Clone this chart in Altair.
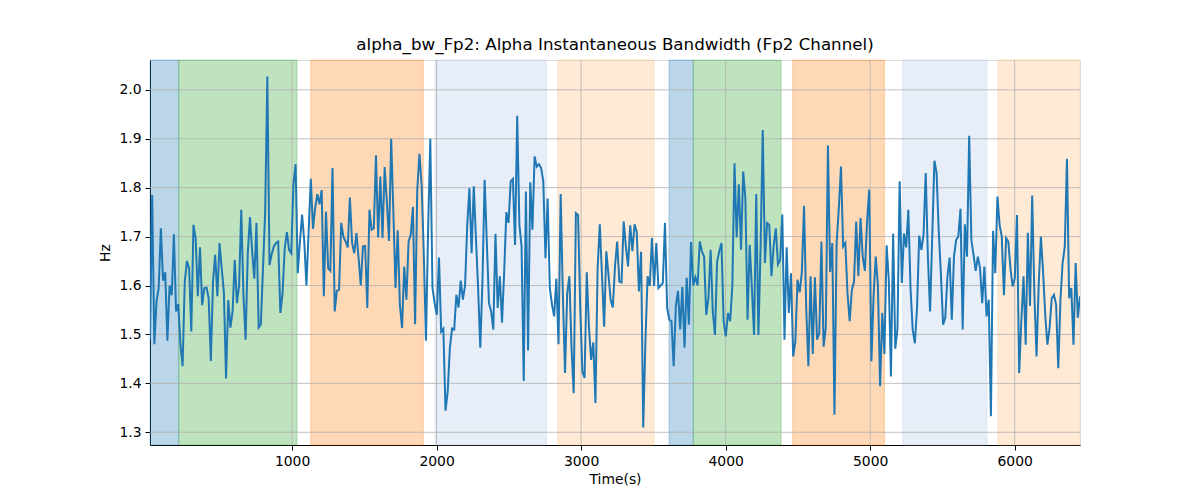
import altair as alt
import pandas as pd

# ---- data ----
T0 = 17.0
STEP = 15.035
bandwidth = [
    # 0 - ~830 s
    1.49, 1.785, 1.48, 1.567, 1.595, 1.717, 1.61, 1.627, 1.487, 1.6,
    1.58, 1.705, 1.547, 1.562, 1.48, 1.435, 1.608, 1.65, 1.635, 1.506,
    1.724, 1.697, 1.578, 1.678, 1.56, 1.595, 1.596, 1.574, 1.446, 1.608,
    1.663, 1.578, 1.687, 1.635, 1.586, 1.41, 1.57, 1.514, 1.547, 1.652,
    1.564, 1.6, 1.755, 1.581, 1.489, 1.666, 1.74, 1.67, 1.614, 1.728,
    1.514, 1.52, 1.635, 1.75, 2.027,
    # ~830 - ~1700 s
    1.642, 1.664, 1.68, 1.687, 1.69, 1.544, 1.584, 1.676, 1.709, 1.673,
    1.666, 1.806, 1.848, 1.625, 1.69, 1.745, 1.69, 1.6, 1.71, 1.818,
    1.716, 1.758, 1.787, 1.766, 1.795, 1.578, 1.751, 1.635, 1.63, 1.84,
    1.547, 1.589, 1.591, 1.728, 1.7, 1.69, 1.678, 1.78, 1.687, 1.666,
    1.707, 1.656, 1.6, 1.68, 1.681, 1.554, 1.755, 1.714, 1.717, 1.866,
    1.698, 1.823, 1.697, 1.842, 1.772, 1.691, 1.9,
    # ~1700 - ~2580 s
    1.75, 1.595, 1.713, 1.561, 1.513, 1.639, 1.571, 1.69, 1.703, 1.761,
    1.521, 1.796, 1.869, 1.806, 1.666, 1.487, 1.717, 1.9, 1.595, 1.564,
    1.54, 1.657, 1.506, 1.512, 1.344, 1.383, 1.472, 1.512, 1.51, 1.581,
    1.555, 1.61, 1.571, 1.6, 1.724, 1.799, 1.666, 1.803, 1.697, 1.595,
    1.473, 1.608, 1.816, 1.69, 1.564, 1.547, 1.51, 1.706, 1.554, 1.619,
    1.524, 1.628, 1.75, 1.728, 1.813, 1.818, 1.683, 1.947,
    # ~2580 - ~3450 s
    1.724, 1.68, 1.405, 1.792, 1.467, 1.811, 1.714, 1.864, 1.843, 1.848,
    1.84, 1.813, 1.656, 1.778, 1.595, 1.561, 1.537, 1.614, 1.48, 1.787,
    1.581, 1.421, 1.584, 1.619, 1.472, 1.38, 1.748, 1.744, 1.554, 1.424,
    1.411, 1.627, 1.516, 1.448, 1.484, 1.36, 1.635, 1.725, 1.622, 1.516,
    1.67, 1.622, 1.571, 1.555, 1.639, 1.69, 1.608, 1.606, 1.731, 1.68,
    1.639, 1.723, 1.67, 1.725, 1.71, 1.588, 1.669, 1.31,
    # ~3450 - ~4310 s
    1.486, 1.619, 1.599, 1.697, 1.599, 1.687, 1.595, 1.6, 1.605, 1.728,
    1.554, 1.53, 1.527, 1.435, 1.558, 1.589, 1.51, 1.597, 1.473, 1.616,
    1.52, 1.689, 1.6, 1.617, 1.6, 1.69, 1.67, 1.659, 1.54, 1.574,
    1.673, 1.547, 1.499, 1.649, 1.67, 1.687, 1.527, 1.496, 1.544, 1.527,
    1.6, 1.85, 1.698, 1.807, 1.673, 1.833, 1.778, 1.53, 1.683, 1.595,
    1.499, 1.787, 1.499, 1.676, 1.918, 1.646, 1.728,
    # ~4310 - ~5180 s
    1.724, 1.619, 1.68, 1.717, 1.643, 1.652, 1.745, 1.489, 1.678, 1.544,
    1.625, 1.455, 1.486, 1.612, 1.586, 1.628, 1.763, 1.554, 1.435, 1.619,
    1.46, 1.617, 1.489, 1.503, 1.69, 1.475, 1.513, 1.886, 1.628, 1.687,
    1.336, 1.687, 1.758, 1.843, 1.68, 1.687, 1.584, 1.527, 1.591, 1.608,
    1.731, 1.619, 1.738, 1.659, 1.63, 1.731, 1.796, 1.445, 1.578, 1.659,
    1.6, 1.394, 1.544, 1.46, 1.682, 1.612, 1.414, 1.706,
    # ~5180 - ~6030 s
    1.471, 1.512, 1.813, 1.605, 1.706, 1.678, 1.755, 1.595, 1.51, 1.482,
    1.554, 1.702, 1.673, 1.704, 1.83, 1.659, 1.547, 1.7, 1.855, 1.83,
    1.71, 1.622, 1.52, 1.534, 1.619, 1.657, 1.53, 1.659, 1.693, 1.7,
    1.757, 1.51, 1.725, 1.659, 1.906, 1.693, 1.663, 1.63, 1.659, 1.635,
    1.564, 1.639, 1.537, 1.571, 1.333, 1.712, 1.625, 1.782, 1.724, 1.7,
    1.58, 1.697, 1.69, 1.635, 1.598, 1.615, 1.744, 1.421,
    # ~6030 - end
    1.527, 1.619, 1.479, 1.708, 1.558, 1.784, 1.582, 1.455, 1.602, 1.7,
    1.629, 1.54, 1.479, 1.513, 1.574, 1.581, 1.561, 1.431, 1.571, 1.646,
    1.68, 1.859, 1.574, 1.595, 1.479, 1.646, 1.534, 1.578,
]
times = [T0 + i * STEP for i in range(len(bandwidth))]

span_start = [17, 216, 1129, 1990, 2838, 3608, 3776, 4464, 5225, 5883]
span_end = [216, 1034, 1908, 2760, 3505, 3776, 4384, 5099, 5809, 6452]
span_color = ["#1f77b4", "#2ca02c", "#ff7f0e", "#aec7e8", "#ffbb78",
              "#1f77b4", "#2ca02c", "#ff7f0e", "#aec7e8", "#ffbb78"]

x_ticks = [1000, 2000, 3000, 4000, 5000, 6000]
y_ticks = [1.3, 1.4, 1.5, 1.6, 1.7, 1.8, 1.9, 2.0]

X_DOMAIN = [17, 6452]
Y_DOMAIN = [1.274, 2.061]

line_df = pd.DataFrame({"t": times, "v": bandwidth})
span_df = pd.DataFrame({"start": span_start, "end": span_end, "color": span_color})
xgrid_df = pd.DataFrame({"x": x_ticks})
ygrid_df = pd.DataFrame({"y": y_ticks})

FONT = "DejaVu Sans"
xscale = alt.Scale(domain=X_DOMAIN, nice=False, zero=False)
yscale = alt.Scale(domain=Y_DOMAIN, nice=False, zero=False)

x_axis = alt.Axis(values=x_ticks, title="Time(s)", grid=False, format="d",
                  labelFont=FONT, labelFontSize=13.9, labelColor="black",
                  titleFont=FONT, titleFontSize=13.9, titleFontWeight="normal",
                  titleColor="black", tickColor="black", tickSize=5,
                  domainColor="black", labelPadding=4, titlePadding=5)
y_axis = alt.Axis(values=y_ticks, title="Hz", grid=False, format=".1f",
                  labelFont=FONT, labelFontSize=13.9, labelColor="black",
                  titleFont=FONT, titleFontSize=13.9, titleFontWeight="normal",
                  titleColor="black", tickColor="black", tickSize=5,
                  domainColor="black", labelPadding=4, titlePadding=6)

spans = alt.Chart(span_df).mark_rect(fillOpacity=0.3, strokeOpacity=0.3, strokeWidth=1).encode(
    x=alt.X("start:Q", scale=xscale, axis=x_axis),
    x2="end:Q",
    y=alt.value(0),
    y2=alt.value(385),
    color=alt.Color("color:N", scale=None, legend=None),
    stroke=alt.Stroke("color:N", scale=None, legend=None),
)

xgrid = alt.Chart(xgrid_df).mark_rule(color="#b0b0b0", strokeWidth=0.8).encode(
    x=alt.X("x:Q", scale=xscale, axis=x_axis),
    y=alt.value(0), y2=alt.value(385),
)
ygrid = alt.Chart(ygrid_df).mark_rule(color="#b0b0b0", strokeWidth=0.8).encode(
    y=alt.Y("y:Q", scale=yscale, axis=y_axis),
    x=alt.value(0), x2=alt.value(930),
)

line = alt.Chart(line_df).mark_line(color="#1f77b4", strokeWidth=2, clip=True).encode(
    x=alt.X("t:Q", scale=xscale, axis=x_axis),
    y=alt.Y("v:Q", scale=yscale, axis=y_axis),
)

chart = alt.layer(spans, xgrid, ygrid, line).properties(
    width=930,
    height=385,
    autosize=alt.AutoSizeParams(type="none"),
    padding={"left": 150, "top": 60, "right": 120, "bottom": 55},
    title=alt.TitleParams(
        "alpha_bw_Fp2: Alpha Instantaneous Bandwidth (Fp2 Channel)",
        font=FONT, fontSize=16.7, fontWeight="normal", color="black",
        anchor="middle", offset=6,
    ),
).configure_view(stroke="black", strokeWidth=1).configure(background="white")

chart.save("out.html", embed_options={"renderer": "svg", "actions": False})
